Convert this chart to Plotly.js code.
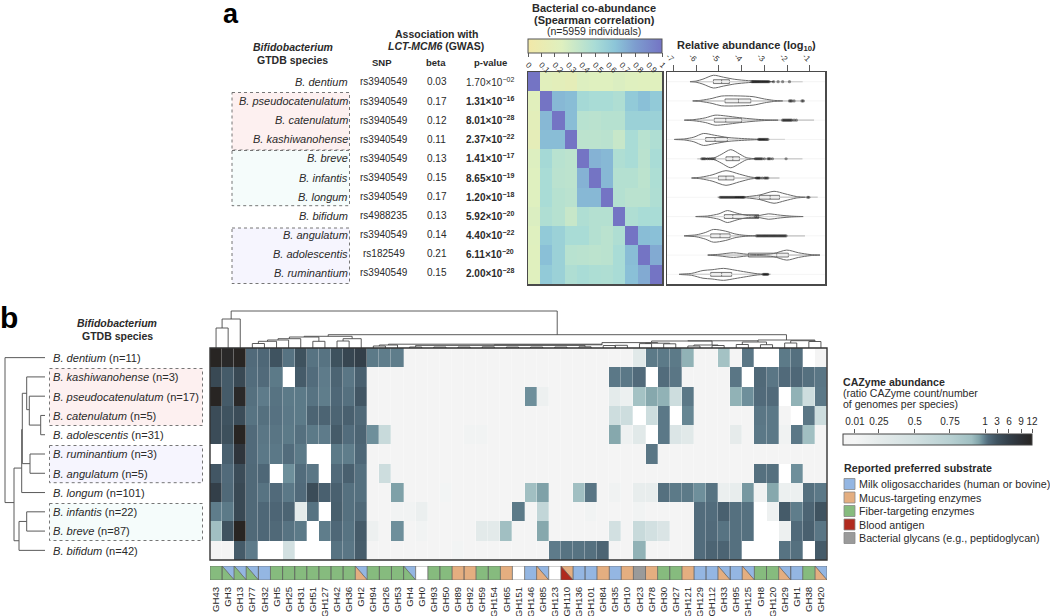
<!DOCTYPE html>
<html><head><meta charset="utf-8">
<script src="https://cdn.plot.ly/plotly-3.0.1.min.js"></script>
<style>html,body{margin:0;padding:0;background:#fff}#c{width:1050px;height:616px}</style></head>
<body><div id="c"></div>
<script>
const _ = null;
// ---------- panel a: table ----------
const speciesA = ['B. dentium','B. pseudocatenulatum','B. catenulatum','B. kashiwanohense','B. breve','B. infantis','B. longum','B. bifidum','B. angulatum','B. adolescentis','B. ruminantium'];
const snps = ['rs3940549','rs3940549','rs3940549','rs3940549','rs3940549','rs3940549','rs3940549','rs4988235','rs3940549','rs182549','rs3940549'];
const betas = ['0.03','0.17','0.12','0.11','0.13','0.15','0.17','0.13','0.14','0.21','0.15'];
const pMant = ['1.70','1.31','8.01','2.37','1.41','8.65','1.20','5.92','4.40','6.11','2.00'];
const pExp = ['02','16','28','22','17','19','18','20','22','20','28'];
// ---------- panel a: correlation ----------
const corr = [
 [1,.22,.2,.17,.26,.25,.25,.27,.25,.24,.24],
 [.22,1,.7,.68,.52,.5,.5,.47,.62,.67,.62],
 [.2,.7,1,.68,.43,.42,.44,.44,.57,.57,.57],
 [.17,.68,.68,1,.41,.41,.42,.36,.5,.43,.47],
 [.26,.52,.43,.41,1,.72,.7,.47,.5,.42,.5],
 [.25,.5,.42,.41,.72,1,.7,.45,.45,.41,.48],
 [.25,.5,.44,.42,.7,.7,1,.45,.42,.42,.47],
 [.27,.47,.44,.36,.47,.45,.45,1,.47,.5,.5],
 [.25,.62,.57,.5,.5,.45,.42,.47,1,.68,.67],
 [.24,.67,.57,.43,.42,.41,.42,.5,.68,1,.75],
 [.24,.62,.57,.47,.5,.48,.47,.5,.67,.75,1]];
const corrTicks = [0,.1,.2,.3,.4,.5,.6,.7,.8,.9,1];
const corrTickText = ['0','0.1','0.2','0.3','0.4','0.5','0.6','0.7','0.8','0.9','1'];
// ---------- panel a: violins (log10 knots / half width in rows) ----------
const violinLog = [
 [-6.27,-6,-5.7,-5.24,-4.8,-4.3,-3.7,-3.2,-2.6],
 [-6.15,-5.8,-5.3,-4.9,-4.2,-3.5,-3,-2.6,-2.2],
 [-6.52,-6.1,-5.6,-5.17,-4.7,-4.1,-3.5,-3,-2.4],
 [-6.96,-6.5,-6.1,-5.68,-5.2,-4.6,-4,-3.5,-3],
 [-5.6,-5.2,-4.9,-4.48,-4.1,-3.8,-3.4],
 [-6.2,-5.8,-5.3,-4.69,-4.1,-3.6,-3.2],
 [-4.3,-3.8,-3.2,-2.58,-2.1,-1.6,-1.2],
 [-6.02,-5.5,-5,-4.63,-4.2,-3.7,-3.2,-2.83,-2.3,-1.8,-1.3],
 [-6.53,-6,-5.6,-5.24,-4.7,-4.3,-3.9,-3.4],
 [-5.49,-5,-4.36,-3.8,-3.2,-2.6,-2.02,-1.5,-1,-.56],
 [-6.75,-6.2,-5.7,-5.3,-4.8,-4.3,-3.8,-3.3,-2.8]];
const violinWidth = [
 [0,.03,.13,.33,.23,.12,.05,.02,0],
 [0,.03,.13,.25,.26,.22,.1,.03,0],
 [0,.03,.12,.26,.22,.13,.06,.02,0],
 [0,.03,.12,.31,.22,.1,.05,.02,0],
 [0,.05,.22,.47,.25,.06,0],
 [0,.04,.16,.38,.2,.05,0],
 [0,.03,.12,.31,.18,.04,0],
 [0,.03,.14,.31,.17,.05,.06,.14,.07,.02,0],
 [0,.05,.17,.33,.24,.1,.03,0],
 [0,.04,.12,.05,.03,.08,.26,.12,.03,0],
 [0,.05,.2,.24,.31,.22,.12,.03,0]];
const boxQ1 = [-5.24,-4.73,-5.2,-5.58,-4.69,-5.02,-3.22,-4.76,-5.36,-3.7,-5.36];
const boxMed = [-4.88,-4.14,-4.7,-5.17,-4.39,-4.69,-2.75,-4.39,-4.95,-2.46,-4.88];
const boxQ3 = [-4.54,-3.6,-4,-4.63,-4.1,-4.34,-2.34,-3.25,-4.51,-1.95,-4.44];
const fenceLo = [-6.27,-6.15,-6.52,-6.96,-5.95,-6.2,-5.07,-6.02,-6.53,-5.49,-6.75];
const fenceHi = [-1.32,-1.22,-.82,-2.1,-1.33,-2.34,-.66,-1.29,-1.22,-.56,-2.71];
const outliers = [
 [-3.55,-3.5,-3.45,-3.4,-3.35,-3.3,-3.25,-3.2,-3.15,-3.1,-3.05,-3,-2.95,-2.9,-2.85,-2.8,-2.6,-2.4,-2.2,-1.9],
 [-1.9,-1.85,-1.8,-1.7,-1.35,-1.3],
 [-2.2,-2.15,-2.1,-2.05,-2,-1.95,-1.9,-1.85,-1.8,-1.7,-1.6],
 [-3.25,-3.2,-3.15,-3.1,-3.05,-3,-2.95,-2.9,-2.85],
 [-5.75,-5.7,-5.65,-5.6,-5.5,-5.4,-5.3,-5.2,-3.4,-3.35,-3.3,-3.25,-3.2,-3.15,-3.1,-3,-2.85,-2.8,-2.75,-2.65,-2.05],
 [-3.35,-3.3,-3.25,-3.2,-3.1,-3,-2.95,-2.9,-2.85],
 [-4.95,-4.9,-4.85,-4.8,-4.75,-4.7,-4.65,-4.6,-4.55,-4.5,-4.45,-4.4,-4.35,-4.3,-4.25,-4.2,-4.15,-4.1,-4.05,-4,-3.95,-3.9,-1.1,-1.05],
 [-3.4,-3.3],
 [-3.35,-3.3,-3.25,-3.2,-3.15,-3.1,-3.05,-3,-2.95,-2.9,-2.85,-2.8,-2.75,-2.7,-2.65,-2.6,-2.55,-2.5,-2.45,-2.4,-2.35,-2.3,-2.25,-2.2,-2.15,-2.1,-2.05],
 [],
 [-3.05,-3,-2.95,-2.9,-2.85]];
const logTicks = [-7,-6,-5,-4,-3,-2,-1];
const logTickText = ['-7','-6','-5','-4','-3','-2','-1'];
// ---------- panel b: heatmap ----------
const speciesB = ['B. dentium','B. kashiwanohense','B. pseudocatenulatum','B. catenulatum','B. adolescentis','B. ruminantium','B. angulatum','B. longum','B. infantis','B. breve','B. bifidum'];
const genomes = [11,3,17,5,31,3,5,101,22,87,42];
const ghLabels = ['GH43','GH3','GH13','GH77','GH32','GH5','GH25','GH31','GH51','GH127','GH42','GH36','GH2','GH94','GH26','GH53','GH4','GH0','GH93','GH50','GH89','GH92','GH59','GH154','GH65','GH151','GH146','GH85','GH123','GH110','GH136','GH101','GH84','GH35','GH10','GH23','GH78','GH30','GH27','GH121','GH129','GH112','GH33','GH95','GH125','GH8','GH120','GH29','GH1','GH38','GH20'];
const rDentium = [12,11,12,1.6,1.8,3,1.3,3.2,1.3,1.3, 3.2,5,6,1.1,1,1,0,0,0,0, 0,0,0,0,0,0,0,0,0,0, 0,0,0,0,0,.3,1.1,1.1,1.1,.93, 0,0,.88,0,1.2,_,_,1.1,1.4,_, 0];
const rKashi = [4.5,2.5,4.5,1.5,1.6,1.1,_,2.5,1.5,1.05, 2,1.2,2.2,0,0,0,0,0,0,0, 0,0,0,0,0,0,0,0,0,0, 0,0,0,1.15,1.15,1.6,_,1.5,1.2,0, 0,0,0,1.2,_,1.7,1.2,1.6,1.8,1.4, 1.2];
const rPseudo = [12,2.5,11,1.4,1.05,1.3,1.1,1.1,1.3,1, 1.8,1.4,2.8,0,0,0,0,0,0,0, 0,0,0,0,0,0,.98,.12,0,0, 0,0,0,.26,.14,.88,.95,.93,.55,1.15, 0,0,0,.93,.98,1.6,1.6,_,.93,.55, 1.15];
const rCatenu = [4,3,4,1.3,1.4,1.35,1.15,1.1,2,2, 2,2.2,1.7,0,0,0,0,0,0,0, 0,0,0,0,0,0,0,0,0,0, 0,0,0,.55,.55,_,.55,1.15,_,.99, 0,0,0,0,0,1.2,1.15,0,_,1.2, .55];
const rAdoles = [4,3.5,12,1.6,1.2,1.25,1.1,1.4,1.1,1.05, 2.5,1.5,2,.98,.6,0,0,0,0,0, 0,.06,.06,0,0,0,0,0,0,0, 0,0,0,.95,.1,.3,_,1.15,.38,.3, 0,0,0,.24,0,1.15,1.15,.08,1.15,.9, 0];
const rRumina = [_,2.2,8,1.6,1.15,1.15,1.5,1.1,_,_, 1.1,1,1.8,0,0,0,0,0,0,0, 0,0,0,0,0,0,0,0,0,0, 0,0,0,0,0,0,1.2,0,0,0, 0,0,0,0,0,0,0,0,0,0, 0];
const rAngula = [2.8,1.6,4,1.7,1.8,_,.98,1.5,1.2,_, 1.6,2.2,1.4,0,.55,0,0,0,0,0, 0,0,0,0,0,0,0,0,0,0, 0,0,0,0,0,0,0,0,0,0, 0,0,0,0,0,1.4,1.4,_,.98,0, 0];
const rLongum = [6,1.7,4.5,1.7,1.3,1.6,1.15,1.6,4,2.2, 2.2,1.4,1.4,0,0,.96,0,0,0,.04, 0,0,0,0,0,0,.9,.96,0,0, .9,1.25,0,.08,0,.2,.2,1.4,1.1,1.1, .98,1.3,.16,.2,.97,.08,.95,.14,.14,1.4, 1.15];
const rInfant = [1,1.1,4.5,1.7,1.8,1.9,2,.26,1.3,_, 2.3,1.4,1.7,0,0,.06,.06,.16,0,0, 0,0,0,0,0,1.1,0,.65,0,0, 0,.06,0,0,0,.06,0,0,0,0, 1.5,1.5,2.2,1.4,1.4,_,.1,2.5,1,2, 3];
const rBreve = [.9,3,12,1.7,1.8,1.7,1.3,1.1,_,1, 1.8,1.3,2.5,.12,0,.98,0,.06,0,0, 0,0,.28,.28,.9,0,0,.95,0,0, 0,0,0,.5,0,.6,.5,.4,0,0, 1.5,1.6,1.3,1.4,1.4,_,_,.12,1.6,2.2, 1.2];
const rBifidum = [0,0,2.5,1.05,_,_,.5,_,_,_, 1.3,1.2,2.4,0,0,0,0,0,0,0, .04,0,0,0,0,0,0,0,1.05,1.3, 1.3,1.4,2,0,0,.93,0,0,0,0, 1.5,2,2,1.4,_,_,_,1.3,1.4,_, 2.5];
const abundance = [rDentium,rKashi,rPseudo,rCatenu,rAdoles,rRumina,rAngula,rLongum,rInfant,rBreve,rBifidum];
const abTicks = [.01,.25,.5,.75,1,3,6,9,12];
const abTickText = ['0.01','0.25','0.5','0.75','1','3','6','9','12'];
const abTickPos = [.063,.19,.38,.566,.752,.815,.878,.942,1];
// substrate strip: lower-left colour / upper-right colour
const subLower = ['F','F','F','F','M','F','F','F','F','F','F','F','U','F','F','F','F','',  'F','F','U','U','F','F','U','','M','U','','R','M','M','U','M','U','P','U','F','F','U','M','M','U','M','U','F','F','U','M','F','U'];
const subUpper = ['F','M','M','M','M','F','F','F','F','F','F','F','M','F','F','F','M','',  'F','F','U','U','F','F','U','','M','M','','U','M','M','U','M','U','P','U','F','F','U','M','M','M','M','M','F','F','M','M','F','M'];
const subNames = ['Milk oligosaccharides (human or bovine)','Mucus-targeting enzymes','Fiber-targeting enzymes','Blood antigen','Bacterial glycans (e.g., peptidoglycan)'];
const subKeys = ['M','U','F','R','P'];
const subColors = ['#94b6e2','#e4ae80','#86bb7e','#b02a1e','#9a9a9a'];
// dendrograms: [a, b, heightA, heightB, top] in column index / px height
const topArches = [
 [0,1,0,0,20],[.5,2,20,0,29],[3,4,0,0,4.5],[3.5,5,4.5,0,6.7],[4.25,6,6.7,0,8],[5.12,7,8,0,9.3],[8,9,0,0,6.7],[6.06,8.5,9.3,6.7,11],
 [10,11,0,0,7],[10.5,12,7,0,9.3],[7.28,11.25,11,9.3,11.7],[9.27,47.15,11.7,8,13.3],[1.25,28.2,29,13.3,37],
 [13,14,0,0,2],[13.5,15,2,0,3],[14.25,31.9,3,3,3.8],[16,17,0,0,1],[18,19,0,0,1],[20,21,0,0,1],[22,23,0,0,1.2],[24,25,0,0,1],[26,27,0,0,1],[28,29,0,0,1],[30,31,0,0,1.2],
 [16.5,30.5,1,1.2,2.6],[23,31.9,2.6,3,3.2],[32,33,0,0,2.5],[33,34,0,0,2.7],[35,36,0,0,4.4],[37,38,0,0,4.2],[35.5,37.5,4.4,4.2,4.8],[31.9,36.5,3.8,4.8,5.4],
 [39,40,0,0,2],[41,42,0,0,2.5],[39.5,41.5,2,2.5,3],[43,44,0,0,3.5],[45,46,0,0,3.3],[43.5,45.5,3.5,3.3,6],[36,41,5.4,3,7],[39,44.8,7,6,7.2],[47,48,0,0,5],[49,50,0,0,6.5],[47.5,49.5,5,6.5,7.3],[44.8,49.5,7.2,7.3,8]];
// [parentX, row1, childX1, row2, childX2]
const leftClades = [
 [5,0,45,7.52,14],[14,5.73,21.7,9.5,19],[19,8.5,26.7,10,45],[26.7,8,45,9,45],[21.7,3.73,22.3,7,45],[22.3,1.85,26.7,5.5,30],[30,5,45,6,45],[26.7,1,45,2.7,29.3],[29.3,2,45,3.5,40.7],[40.7,3,45,4,45]];

// ---------- helpers ----------
const W=1050,H=616,FONT='Liberation Sans, Arial, sans-serif',INK='#2a2a2a';
const dx=(a,b)=>[a/W,b/W], dy=(a,b)=>[1-b/H,1-a/H];
const ann=[],shp=[];
function T(text,x,y,o={}){const a=o.a||'center';const nudge=a==='right'?2:(a==='left'?-2.5:0);
 ann.push({text,xref:'paper',yref:'paper',x:(x+nudge)/W,y:1-y/H,showarrow:false,xanchor:a,yanchor:'middle',font:{family:FONT,size:o.s||10,color:o.c||INK},align:a});}
function R(x0,y0,x1,y1,o={}){shp.push({type:'rect',xref:'paper',yref:'paper',x0:x0/W,x1:x1/W,y0:1-y0/H,y1:1-y1/H,fillcolor:o.f||'rgba(0,0,0,0)',line:{color:o.c||'#444',width:o.w===undefined?1:o.w,dash:o.d||'solid'},layer:o.l||'below'});}
const boxLine={d:'dot',c:'#666',w:.9};

// panel text
T('<b>a</b>',231,14,{s:27,c:'#000'}); T('<b>b</b>',9,317,{s:30,c:'#000'});
T('<b><i>Bifidobacterium</i></b>',293,47,{s:10.5});T('<b>GTDB species</b>',292,60,{s:10.5});
T('<b>Association with</b>',436,34,{s:10.5});T('<b><i>LCT-MCM6</i> (GWAS)</b>',436,46,{s:10.5});
T('<b>SNP</b>',382,62,{s:9.5});T('<b>beta</b>',436,62,{s:9.5});T('<b>p-value</b>',490,62,{s:9.5});
R(232,92.5,349.5,150,Object.assign({f:'#fdf0f0'},boxLine));R(232,150.5,349.5,205.7,Object.assign({f:'#f5fcfb'},boxLine));R(232,228,349.5,283.5,Object.assign({f:'#f6f5fe'},boxLine));
speciesA.forEach((s,i)=>{const y=82+19.1*i;
 T('<i>'+s+'</i>',347.5,y,{a:'right',s:11});T(snps[i],384,y,{s:10});T(betas[i],436.5,y,{s:10});
 const p=pMant[i]+'×10<sup>−'+pExp[i]+'</sup>';T(i?'<b>'+p+'</b>':p,466.5,y,{a:'left',s:10});});
T('<b>Bacterial co-abundance</b>',594,8,{s:11});T('<b>(Spearman correlation)</b>',594,20,{s:11});T('(n=5959 individuals)',594,31,{s:10.5});
T('<b>Relative abundance (log<sub>10</sub>)</b>',746,46,{s:11});
T('<b><i>Bifidobacterium</i></b>',117,323,{s:10.5});T('<b>GTDB species</b>',117,336,{s:10.5});
R(49.5,368.5,202.5,425.5,Object.assign({f:'#fdf0f0'},boxLine));R(49.5,445.5,202.5,482.7,Object.assign({f:'#f6f5fe'},boxLine));R(49.5,503.5,202.5,540.5,Object.assign({f:'#f5fcfb'},boxLine));
speciesB.forEach((s,i)=>T('<i>'+s+'</i> (n='+genomes[i]+')',53,358+19.25*i,{a:'left',s:11.1}));
T('<b>CAZyme abundance</b>',843,382,{a:'left',s:10.6});T('(ratio CAZyme count/number',843,393,{a:'left',s:10.5});T('of genomes per species)',843,404,{a:'left',s:10.5});
T('<b>Reported preferred substrate</b>',844,468,{a:'left',s:10.7});
subNames.forEach((s,i)=>{const y=484+13.5*i;R(844,y-5.5,855,y+5.5,{f:subColors[i],c:'#888',w:.8});T(s,859.5,y,{a:'left',s:10.7});});
R(210,348,827,560,{c:'#333',w:1.4,l:'above'});
shp.push({type:'line',xref:'paper',yref:'paper',x0:985/W,x1:985/W,y0:1-434/H,y1:1-445/H,line:{color:'#222',width:1},layer:'above'});

// scales
const abStopsV=[0].concat(abTicks),abStopsD=[0].concat(abTickPos);
function disp(v){if(v===null)return null;for(let i=1;i<abStopsV.length;i++){if(v<=abStopsV[i]){const t=(v-abStopsV[i-1])/(abStopsV[i]-abStopsV[i-1]);return abStopsD[i-1]+t*(abStopsD[i]-abStopsD[i-1]);}}return 1;}
const abScale=[[0,'#f4f4f4'],[.063,'#f4f5f5'],[.19,'#e5ebeb'],[.38,'#d2e0e1'],[.566,'#b8d0d2'],[.68,'#a0bfc2'],[.72,'#82a4aa'],[.74,'#6b8c98'],[.752,'#5f7d8b'],[.768,'#526c7c'],[.815,'#3f5360'],[.878,'#333f49'],[.942,'#2d3035'],[1,'#282523']];
const corrScale=[[0,'#f2e8a8'],[.25,'#dff0bf'],[.5,'#a9dcd6'],[.65,'#8cc5d8'],[.8,'#7d9dcf'],[1,'#7474c4']];

const traces=[];
// correlation heatmap
traces.push({type:'heatmap',z:corr,xaxis:'x',yaxis:'y',zmin:0,zmax:1,colorscale:corrScale,hoverinfo:'skip',
 colorbar:{orientation:'h',x:528/W,xanchor:'left',len:134/W,lenmode:'fraction',y:1-38.5/H,yanchor:'top',thickness:13.5,thicknessmode:'pixels',xpad:0,ypad:0,outlinecolor:'#555',outlinewidth:1,ticks:'outside',ticklen:4,tickwidth:.8,tickcolor:'#333',tickvals:corrTicks,ticktext:corrTickText,tickangle:45,tickfont:{family:FONT,size:8,color:INK}}});
// violins
violinLog.forEach((xs,i)=>{
 traces.push({type:'scatter',mode:'lines',xaxis:'x2',yaxis:'y2',x:[-7.28,-.34],y:[i,i],line:{color:'#f2f2f2',width:.8},hoverinfo:'skip',showlegend:false});
 traces.push({type:'scatter',mode:'lines',xaxis:'x2',yaxis:'y2',x:xs.concat(xs.slice().reverse()),y:xs.map((_x,k)=>i-violinWidth[i][k]).concat(xs.map((_x,k)=>i+violinWidth[i][k]).reverse()),line:{color:'#6a6a6a',width:1,shape:'spline',smoothing:.8},hoverinfo:'skip',showlegend:false});
 traces.push({type:'scatter',mode:'markers',xaxis:'x2',yaxis:'y2',x:outliers[i],y:outliers[i].map(()=>i),marker:{size:3.2,color:'rgba(20,20,20,.45)'},hoverinfo:'skip',showlegend:false});
});
traces.push({type:'box',orientation:'h',xaxis:'x2',yaxis:'y2',y:speciesA.map((s,i)=>i),q1:boxQ1,median:boxMed,q3:boxQ3,lowerfence:fenceLo,upperfence:fenceHi,width:.2,whiskerwidth:0,boxpoints:false,fillcolor:'#ececec',line:{color:'#5a5a5a',width:.8},hoverinfo:'skip',showlegend:false});
// abundance heatmap
traces.push({type:'heatmap',z:abundance.map(r=>r.map(disp)),xaxis:'x3',yaxis:'y3',zmin:0,zmax:1,colorscale:abScale,hoverinfo:'skip',xgap:.3,hoverongaps:false,
 colorbar:{orientation:'h',x:843/W,xanchor:'left',len:189/W,lenmode:'fraction',y:1-434/H,yanchor:'top',thickness:11,thicknessmode:'pixels',xpad:0,ypad:0,outlinecolor:'#444',outlinewidth:1,ticks:'',showticklabels:false}});
// colour-bar tick axis (ticks and labels above the bar)
traces.push({type:'scatter',mode:'lines',xaxis:'x5',yaxis:'y7',x:[0,1],y:[0,0],line:{color:'rgba(0,0,0,0)',width:0},hoverinfo:'skip',showlegend:false});
// substrate strip
function addPolys(key,color){const xs=[],ys=[];
 ghLabels.forEach((g,i)=>{const l=i-.5,r=i+.5,lo=subLower[i],up=subUpper[i];
  if(lo===up){if(lo===key){xs.push(l,l,r,r,l,_);ys.push(1,0,0,1,1,_);}}
  else{
   if(lo===key){xs.push(l,l,r,l,_);ys.push(1,0,0,1,_);}
   if(up===key){xs.push(l,r,r,l,_);ys.push(1,1,0,1,_);}
  }});
 traces.push({type:'scatter',mode:'lines',fill:'toself',fillcolor:color,xaxis:'x3',yaxis:'y4',x:xs,y:ys,line:{color:'#5e5e5e',width:.6},hoverinfo:'skip',showlegend:false});}
subKeys.forEach((k,i)=>addPolys(k,subColors[i]));
addPolys('','#ffffff');
// top dendrogram
(function(){const xs=[],ys=[];topArches.forEach(a=>{xs.push(a[0],a[0],a[1],a[1],_);ys.push(a[2],a[4],a[4],a[3],_);});
 traces.push({type:'scatter',mode:'lines',xaxis:'x3',yaxis:'y5',x:xs,y:ys,line:{color:'#4a4a4a',width:.9},hoverinfo:'skip',showlegend:false});})();
// left dendrogram
(function(){const xs=[],ys=[];leftClades.forEach(c=>{xs.push(c[2],c[0],c[0],c[4],_);ys.push(c[1],c[1],c[3],c[3],_);});
 traces.push({type:'scatter',mode:'lines',xaxis:'x4',yaxis:'y6',x:xs,y:ys,line:{color:'#5a5a5a',width:1},hoverinfo:'skip',showlegend:false});})();

const frame={showline:true,mirror:true,linecolor:'#4a4a4a',linewidth:1.5,zeroline:false,showgrid:false};
const off={visible:false,showgrid:false,zeroline:false};
const layout={width:W,height:H,margin:{l:0,r:0,t:0,b:0},paper_bgcolor:'#fff',plot_bgcolor:'#fff',showlegend:false,
 font:{family:FONT},annotations:ann,shapes:shp,
 xaxis:Object.assign({},frame,{domain:dx(528,662),range:[-.5,10.5],anchor:'y',showticklabels:false,ticks:''}),
 yaxis:Object.assign({},frame,{domain:dy(72,284),range:[10.5,-.5],anchor:'x',showticklabels:false,ticks:''}),
 xaxis2:Object.assign({},frame,{domain:dx(667,825),range:[-7.28,-.34],anchor:'y2',side:'top',ticks:'outside',ticklen:6,tickwidth:.8,tickcolor:'#333',tickvals:logTicks,ticktext:logTickText,tickangle:45,ticklabelstandoff:-2,tickfont:{family:FONT,size:8,color:INK}}),
 yaxis2:Object.assign({},frame,{domain:dy(72,284),range:[10.5,-.5],anchor:'x2',showticklabels:false,ticks:''}),
 xaxis3:{domain:dx(210,827),range:[-.5,50.5],anchor:'y4',showgrid:false,zeroline:false,showline:false,ticks:'',tickmode:'array',tickvals:ghLabels.map((g,i)=>i),ticktext:ghLabels,tickangle:-90,ticklabelstandoff:4,tickfont:{family:FONT,size:9.6,color:INK}},
 yaxis3:Object.assign({},off,{domain:dy(348,560),range:[10.5,-.5],anchor:'x3'}),
 yaxis4:Object.assign({},off,{domain:dy(566,580),range:[0,1],anchor:'x3'}),
 yaxis5:Object.assign({},off,{domain:dy(308,348),range:[0,40],anchor:'x3'}),
 xaxis4:Object.assign({},off,{domain:dx(0,47),range:[0,47],anchor:'y6'}),
 yaxis6:Object.assign({},off,{domain:dy(348,560),range:[10.5,-.5],anchor:'x4'}),
 xaxis5:{domain:dx(843,1032),range:[0,1],anchor:'y7',side:'top',showgrid:false,zeroline:false,showline:false,ticks:'outside',ticklen:4,tickwidth:.8,tickcolor:'#333',tickmode:'array',tickvals:abTickPos,ticktext:abTickText,tickangle:0,tickfont:{family:FONT,size:10,color:INK}},
 yaxis7:Object.assign({},off,{domain:dy(434,445),range:[0,1],anchor:'x5'})
};
Plotly.newPlot('c',traces,layout,{displayModeBar:false,staticPlot:true});
</script></body></html>
